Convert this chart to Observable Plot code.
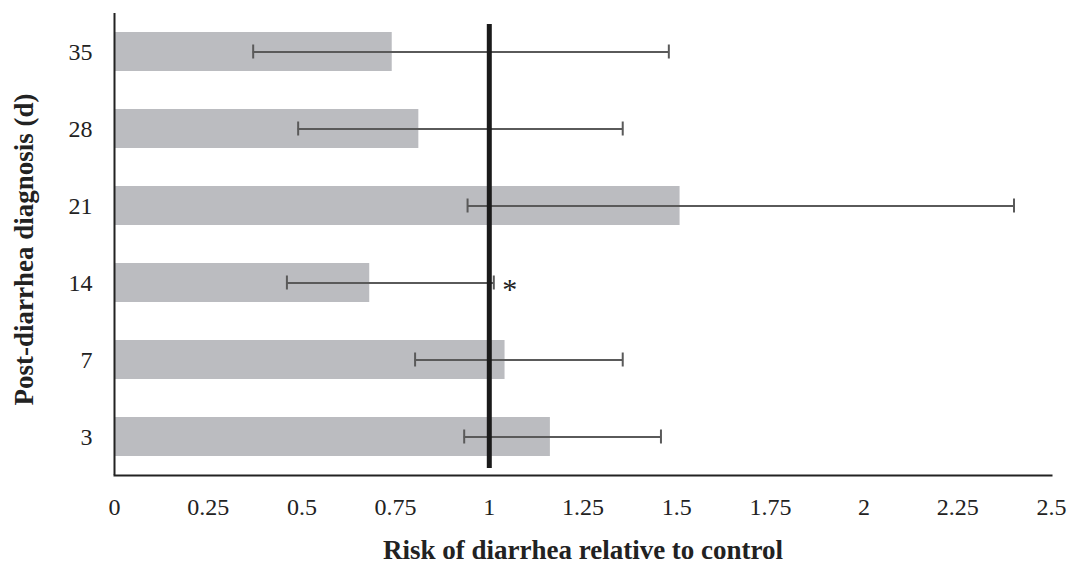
<!DOCTYPE html>
<html>
<head>
<meta charset="utf-8">
<script src="https://cdn.jsdelivr.net/npm/d3@7"></script>
<script src="https://cdn.jsdelivr.net/npm/@observablehq/plot@0.6"></script>
<style>
  html, body { margin: 0; padding: 0; background: #fff; }
  #chart svg { display: block; }
</style>
</head>
<body>
<div id="chart"></div>
<script>
const days = ["35", "28", "21", "14", "7", "3"];
const risk = [0.741, 0.812, 1.509, 0.681, 1.042, 1.163];
const lower = [0.370, 0.490, 0.942, 0.460, 0.802, 0.933];
const upper = [1.479, 1.356, 2.400, 1.012, 1.356, 1.458];
const xTicks = [0, 0.25, 0.5, 0.75, 1, 1.25, 1.5, 1.75, 2, 2.25, 2.5];
const reference = [1];
const marks = [{day: "14", label: "*"}];
const xTitle = "Risk of diarrhea relative to control";
const yTitle = "Post-diarrhea diagnosis (d)";

const data = days.map((d, i) => ({day: d, risk: risk[i], lo: lower[i], hi: upper[i]}));
const starData = marks.map(m => ({...m, hi: upper[days.indexOf(m.day)]}));

const chart = Plot.plot({
  width: 1074,
  height: 566,
  marginLeft: 114,
  marginRight: 23,
  marginTop: 13,
  marginBottom: 91,
  style: {fontFamily: "'Liberation Serif', 'Times New Roman', serif", fontSize: "24px", color: "#222", background: "#fff"},
  x: {domain: [0, 2.5]},
  y: {domain: days, paddingInner: 0.5, paddingOuter: 0.25},
  marks: [
    Plot.barX(data, {y: "day", x: "risk", fill: "#bbbcc0"}),
    Plot.ruleY(data, {y: "day", x1: "lo", x2: "hi", stroke: "#5a5a5a", strokeWidth: 2}),
    Plot.tickX(data, {y: "day", x: "lo", stroke: "#5a5a5a", strokeWidth: 2, insetTop: 12.5, insetBottom: 12.5}),
    Plot.tickX(data, {y: "day", x: "hi", stroke: "#5a5a5a", strokeWidth: 2, insetTop: 12.5, insetBottom: 12.5}),
    Plot.ruleX(reference, {stroke: "#1a1a1a", strokeWidth: 5, insetTop: 11, insetBottom: 7}),
    Plot.text(starData, {y: "day", x: "hi", text: "label", dx: 16, dy: 6, fontSize: 30, fill: "#222"}),
    Plot.ruleX([0], {stroke: "#222", strokeWidth: 2}),
    Plot.frame({anchor: "bottom", stroke: "#222", strokeWidth: 2}),
    Plot.axisX({ticks: xTicks, tickFormat: d => `${d}`, fontSize: 24, tickSize: 0, tickPadding: 22, label: null}),
    Plot.axisY({fontSize: 24, tickSize: 0, tickPadding: 22, label: null}),
    Plot.text([xTitle], {frameAnchor: "bottom", dy: 75, lineAnchor: "middle", textAnchor: "middle", fontSize: 27, fontWeight: "bold", fill: "#222"}),
    Plot.text([yTitle], {frameAnchor: "left", dx: -90, dy: 5, rotate: -90, lineAnchor: "middle", textAnchor: "middle", fontSize: 27, fontWeight: "bold", fill: "#222"})
  ]
});
document.getElementById("chart").appendChild(chart);
</script>
</body>
</html>
